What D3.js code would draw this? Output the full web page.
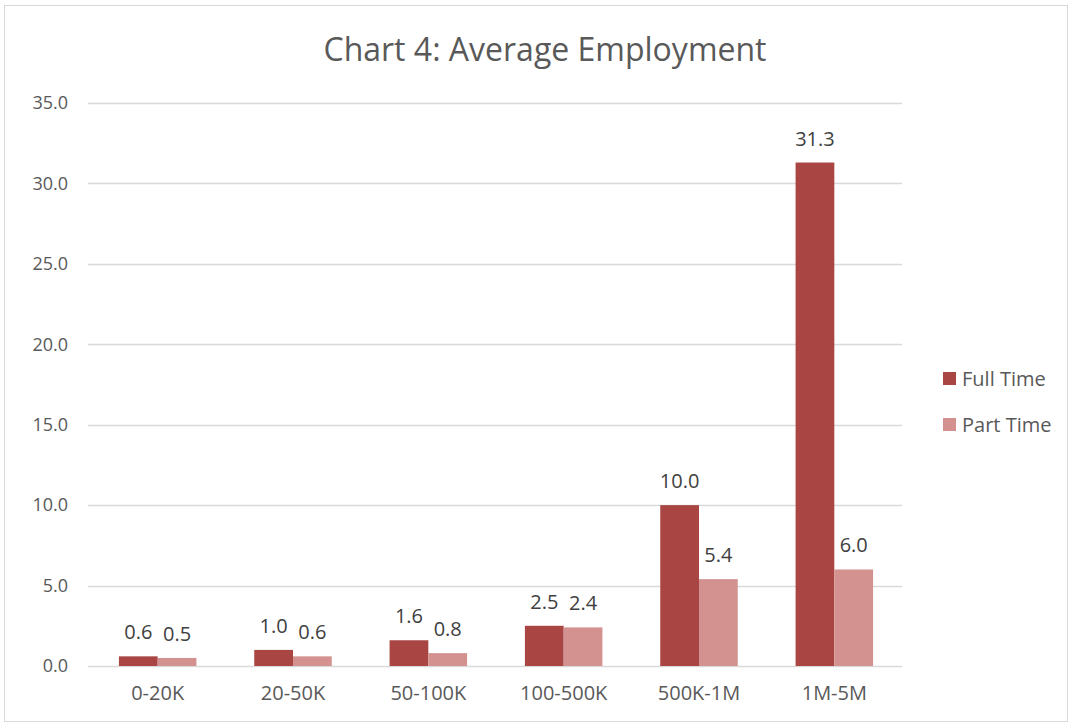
<!DOCTYPE html>
<html>
<head>
<meta charset="utf-8">
<script src="https://cdn.jsdelivr.net/npm/d3@7"></script>
<style>
  html, body { margin: 0; padding: 0; background: #fff; }
  svg { display: block; }
</style>
</head>
<body>
<div id="chart"></div>
<script>
// Chart 4 - grouped bars, average employment by revenue band
const categories = ['0-20K', '20-50K', '50-100K', '100-500K', '500K-1M', '1M-5M'];
const seriesNames = ['Full Time', 'Part Time'];
const fullTime = [0.6, 1.0, 1.6, 2.5, 10.0, 31.3];
const partTime = [0.5, 0.6, 0.8, 2.4, 5.4, 6.0];
const yTicks = [0, 5, 10, 15, 20, 25, 30, 35];

(function() {
  'use strict';

  const width = 1073, height = 726;
  const colors = ['#a94543', '#d39190'];
  const font = '"Open Sans", "Liberation Sans", sans-serif';

  const svg = d3.select('#chart').append('svg')
    .attr('width', width)
    .attr('height', height);

  // outer frame
  svg.append('rect')
    .attr('x', 4.5).attr('y', 5.5)
    .attr('width', 1063).attr('height', 716)
    .attr('fill', '#fff')
    .attr('stroke', '#d9d9d9');

  svg.append('text')
    .attr('x', 545).attr('y', 61)
    .attr('text-anchor', 'middle')
    .attr('font-family', font)
    .attr('font-size', 32)
    .attr('fill', '#595959')
    .text('Chart 4: Average Employment');

  const x = d3.scaleBand().domain(categories).range([90, 902]);
  const y = d3.scaleLinear().domain([0, 35]).range([666, 103]);
  const x1 = d3.scaleBand().domain(seriesNames).range([0, 77.5]);

  // gridlines
  svg.append('g')
    .selectAll('line')
    .data(yTicks)
    .join('line')
    .attr('x1', 88).attr('x2', 902)
    .attr('y1', d => Math.round(y(d)) + 0.5)
    .attr('y2', d => Math.round(y(d)) + 0.5)
    .attr('stroke', '#d9d9d9')
    .attr('stroke-width', 1.5);

  // y axis labels
  const yAxis = svg.append('g')
    .attr('transform', 'translate(88,0)')
    .call(d3.axisLeft(y).tickValues(yTicks).tickFormat(d3.format('.1f')).tickSize(0).tickPadding(20));
  yAxis.select('.domain').remove();
  yAxis.selectAll('text')
    .attr('font-family', font)
    .attr('font-size', 18)
    .attr('fill', '#595959');

  // x axis labels
  const xAxis = svg.append('g')
    .attr('transform', 'translate(0,666)')
    .call(d3.axisBottom(x).tickSize(0).tickPadding(20));
  xAxis.select('.domain').remove();
  xAxis.selectAll('text')
    .attr('font-family', font)
    .attr('font-size', 20)
    .attr('fill', '#595959');

  const rows = categories.map((c, i) => ({
    cat: c,
    vals: [
      { name: seriesNames[0], v: fullTime[i], k: 0 },
      { name: seriesNames[1], v: partTime[i], k: 1 }
    ]
  }));

  const groups = svg.append('g')
    .selectAll('g')
    .data(rows)
    .join('g')
    .attr('transform', d => `translate(${x(d.cat) + (x.bandwidth() - 77.5) / 2},0)`);

  groups.selectAll('rect')
    .data(d => d.vals)
    .join('rect')
    .attr('x', d => x1(d.name))
    .attr('width', x1.bandwidth())
    .attr('y', d => y(d.v))
    .attr('height', d => y(0) - y(d.v))
    .attr('fill', d => colors[d.k]);

  groups.selectAll('text')
    .data(d => d.vals)
    .join('text')
    .attr('x', d => x1(d.name) + x1.bandwidth() / 2)
    .attr('y', d => y(d.v) - 17)
    .attr('text-anchor', 'middle')
    .attr('font-family', font)
    .attr('font-size', 20)
    .attr('fill', '#404040')
    .text(d => d3.format('.1f')(d.v));

  // legend
  const legend = svg.append('g')
    .selectAll('g')
    .data(seriesNames)
    .join('g')
    .attr('transform', (d, i) => `translate(943,${372 + i * 46})`);
  legend.append('rect')
    .attr('width', 13).attr('height', 13)
    .attr('fill', (d, i) => colors[i]);
  legend.append('text')
    .attr('x', 19).attr('y', 6.5)
    .attr('dy', '0.35em')
    .attr('font-family', font)
    .attr('font-size', 20)
    .attr('fill', '#595959')
    .text(d => d);
})();
</script>
</body>
</html>
